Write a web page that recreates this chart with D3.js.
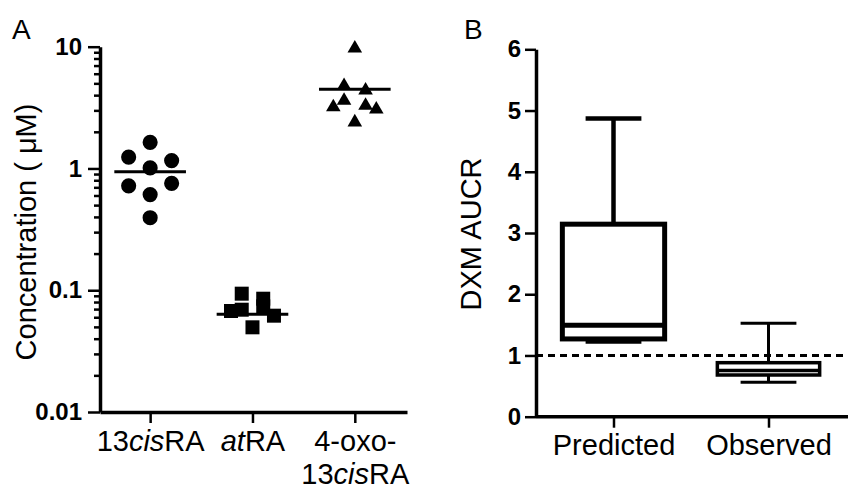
<!DOCTYPE html>
<html>
<head>
<meta charset="utf-8">
<script src="https://cdn.jsdelivr.net/npm/d3@7"></script>
<style>
  html, body { margin: 0; padding: 0; background: #fff; }
  svg { display: block; font-family: "Liberation Sans", Arial, Helvetica, sans-serif; }
</style>
</head>
<body>
<svg id="chart" width="848" height="489"></svg>
<script>
// ---- Panel A: plasma concentrations (µM), log scale ----
const concCategories = ["13cisRA", "atRA", "4-oxo-13cisRA"];
// label pieces: [text, italic]; one array per line
const concLabels = [
  [[["13", false], ["cis", true], ["RA", false]]],
  [[["at", true], ["RA", false]]],
  [[["4-oxo-", false]], [["13", false], ["cis", true], ["RA", false]]]
];
const cis13Values   = [1.64, 1.24, 1.16, 1.01, 0.72, 0.755, 0.61, 0.394];
const cis13Jitter   = [0, -2, 2, 0, -2, 2, 0, 0];
const atRAValues    = [0.0937, 0.0852, 0.0738, 0.0618, 0.0675, 0.0692, 0.0496];
const atRAJitter    = [-1, 1, 1, 2, -2, -1, 0];
const oxoValues     = [9.7, 4.77, 4.38, 3.61, 3.19, 3.28, 3.06, 2.40];
const oxoJitter     = [0, -1, 1, -1, -2, 1, 2, 0];
const concMedians   = [0.94, 0.0634, 4.47];
const concTicks     = [0.01, 0.1, 1, 10];
const concTickLabels = ["0.01", "0.1", "1", "10"];

// ---- Panel B: DXM AUCR box plot ----
const aucrCategories = ["Predicted", "Observed"];
const aucrMin    = [1.23, 0.562];
const aucrQ1     = [1.27, 0.681];
const aucrMedian = [1.494, 0.755];
const aucrQ3     = [3.144, 0.882];
const aucrMax    = [4.87, 1.525];
const aucrTicks  = [0, 1, 2, 3, 4, 5, 6];
const aucrReference = 1;

const svg = d3.select("#chart");
const ink = "#000";

// ================= Panel A =================
const gA = svg.append("g");
const yA = d3.scaleLog().domain([0.01, 10]).range([412, 46.7]);
const xA = d3.scalePoint().domain(concCategories).range([100, 407]).padding(0.5).align(0.49);
const slotA = xA.step() * 0.105;

// minor log ticks
const minorA = [];
for (let e = -2; e < 1; e++) for (let m = 2; m <= 9; m++) minorA.push(m * Math.pow(10, e));
gA.append("g").attr("transform", "translate(100,0)")
  .call(d3.axisLeft(yA).tickValues(minorA).tickSize(6).tickFormat(""))
  .call(g => g.select(".domain").remove())
  .call(g => g.selectAll("line").attr("stroke", ink).attr("stroke-width", 2.5));

const axAy = gA.append("g").attr("transform", "translate(100,0)")
  .call(d3.axisLeft(yA).tickValues(concTicks).tickSize(12).tickSizeOuter(0).tickPadding(6)
    .tickFormat((d, i) => concTickLabels[i]));
axAy.select(".domain").attr("stroke", ink).attr("stroke-width", 3.5);
axAy.selectAll("line").attr("stroke", ink).attr("stroke-width", 2.5);
axAy.selectAll("text").attr("fill", ink).style("font-size", "24px").style("font-weight", "bold")
  .style("font-family", "'Liberation Sans', Arial, sans-serif");

const axAx = gA.append("g").attr("transform", "translate(0,412)")
  .call(d3.axisBottom(xA).tickSize(11).tickSizeOuter(0).tickPadding(8));
axAx.select(".domain").attr("stroke", ink).attr("stroke-width", 3.5);
axAx.selectAll("line").attr("stroke", ink).attr("stroke-width", 2.5);
axAx.selectAll("text").each(function(d, i) {
  const t = d3.select(this).text("").attr("fill", ink).style("font-size", "29px").attr("dy", null).attr("y", 39);
  concLabels[i].forEach((line, li) => {
    line.forEach((seg, si) => {
      const ts = t.append("tspan").text(seg[0]).style("font-style", seg[1] ? "italic" : "normal");
      if (si === 0) ts.attr("x", 0).attr("dy", li === 0 ? 0 : 33);
    });
  });
});

// data points
function drawPoints(values, jitter, cat, symbolType, size) {
  gA.append("g").selectAll("path").data(values).join("path")
    .attr("d", d3.symbol().type(symbolType).size(size))
    .attr("transform", (d, i) => `translate(${xA(cat) + jitter[i] * slotA},${yA(d)})`)
    .attr("fill", ink);
}
drawPoints(cis13Values, cis13Jitter, concCategories[0], d3.symbolCircle, 180);
drawPoints(atRAValues, atRAJitter, concCategories[1], d3.symbolSquare, 196);
drawPoints(oxoValues, oxoJitter, concCategories[2], d3.symbolTriangle, 92);

// median lines
gA.append("g").selectAll("line").data(concMedians).join("line")
  .attr("x1", (d, i) => xA(concCategories[i]) - xA.step() * 0.35)
  .attr("x2", (d, i) => xA(concCategories[i]) + xA.step() * 0.35)
  .attr("y1", d => yA(d)).attr("y2", d => yA(d))
  .attr("stroke", ink).attr("stroke-width", 3);

// axis title + panel letter
gA.append("text").attr("transform", "translate(36,232) rotate(-90)")
  .attr("text-anchor", "middle").style("font-size", "29px").attr("fill", ink)
  .text("Concentration ( μM)");
gA.append("text").attr("x", 12).attr("y", 38.5).style("font-size", "28px").attr("fill", ink).text("A");

// ================= Panel B =================
const gB = svg.append("g");
const yB = d3.scaleLinear().domain([0, 6]).range([416.7, 49.3]);
const xB = d3.scalePoint().domain(aucrCategories).range([536, 846]).padding(0.5);
const boxW = xB.step() * 0.66;
const capW = xB.step() * 0.36;
const boxStroke = [5, 3.5];
const whiskerStroke = [4.5, 3];

const axBy = gB.append("g").attr("transform", "translate(536,0)")
  .call(d3.axisLeft(yB).tickValues(aucrTicks).tickSize(11).tickSizeOuter(0).tickPadding(4).tickFormat(d3.format("d")));
axBy.select(".domain").attr("stroke", ink).attr("stroke-width", 3.5);
axBy.selectAll("line").attr("stroke", ink).attr("stroke-width", 2.5);
axBy.selectAll("text").attr("fill", ink).style("font-size", "24px").style("font-weight", "bold");

const axBx = gB.append("g").attr("transform", "translate(0,416.7)")
  .call(d3.axisBottom(xB).tickSize(11).tickSizeOuter(0).tickPadding(8));
axBx.select(".domain").attr("stroke", ink).attr("stroke-width", 3.5)
  .attr("d", `M${536},0H848`);
axBx.selectAll("line").attr("stroke", ink).attr("stroke-width", 2.5);
axBx.selectAll("text").attr("fill", ink).style("font-size", "29px").attr("dy", null).attr("y", 38);

// reference line at AUCR = 1
gB.append("line").attr("x1", 536).attr("x2", 848)
  .attr("y1", yB(aucrReference)).attr("y2", yB(aucrReference))
  .attr("stroke", ink).attr("stroke-width", 3).attr("stroke-dasharray", "7,5");

const boxes = gB.append("g").selectAll("g").data(aucrCategories).join("g")
  .attr("transform", d => `translate(${xB(d)},0)`);
boxes.each(function(cat, i) {
  const g = d3.select(this);
  // whiskers
  g.append("line").attr("x1", 0).attr("x2", 0).attr("y1", yB(aucrQ3[i])).attr("y2", yB(aucrMax[i]))
    .attr("stroke", ink).attr("stroke-width", whiskerStroke[i]);
  g.append("line").attr("x1", 0).attr("x2", 0).attr("y1", yB(aucrQ1[i])).attr("y2", yB(aucrMin[i]))
    .attr("stroke", ink).attr("stroke-width", whiskerStroke[i]);
  [aucrMax[i], aucrMin[i]].forEach(v => {
    g.append("line").attr("x1", -capW / 2).attr("x2", capW / 2).attr("y1", yB(v)).attr("y2", yB(v))
      .attr("stroke", ink).attr("stroke-width", whiskerStroke[i]);
  });
  // box
  g.append("rect").attr("x", -boxW / 2).attr("width", boxW)
    .attr("y", yB(aucrQ3[i])).attr("height", yB(aucrQ1[i]) - yB(aucrQ3[i]))
    .attr("fill", "#fff").attr("stroke", ink).attr("stroke-width", boxStroke[i]);
  // median
  g.append("line").attr("x1", -boxW / 2).attr("x2", boxW / 2)
    .attr("y1", yB(aucrMedian[i])).attr("y2", yB(aucrMedian[i]))
    .attr("stroke", ink).attr("stroke-width", boxStroke[i]);
});

gB.append("text").attr("transform", "translate(481,234) rotate(-90)")
  .attr("text-anchor", "middle").style("font-size", "29px").attr("fill", ink)
  .text("DXM AUCR");
gB.append("text").attr("x", 464).attr("y", 38.5).style("font-size", "28px").attr("fill", ink).text("B");
</script>
</body>
</html>
